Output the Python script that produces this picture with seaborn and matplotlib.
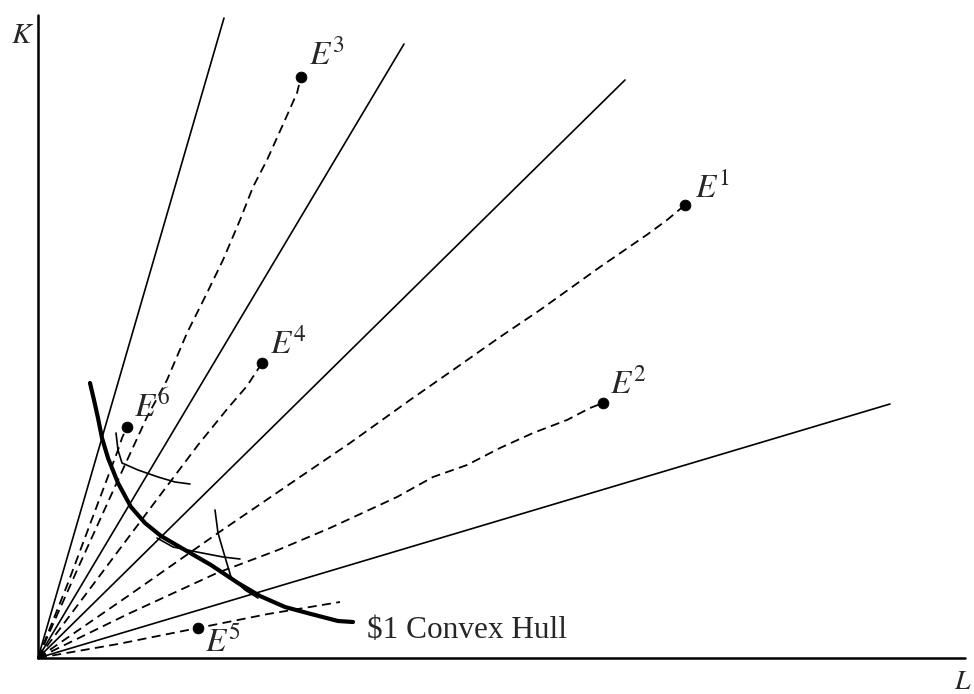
import matplotlib
matplotlib.use("Agg")
import matplotlib.pyplot as plt
import seaborn as sns

# pixel-like units: L to the right, K upward, origin at the corner of the axes
ray_end_L = [186, 366, 587, 852]
ray_end_K = [640, 614, 578, 254]

e_names = ["1", "2", "3", "4", "5", "6"]
e_L = [647, 565, 263, 224, 160, 89]
e_K = [453, 255, 581, 295, 30, 231]

# dashed paths from the origin out to each E point
path_e1_L = [0, 90, 180, 262, 312, 372, 415, 462, 502, 562, 610, 629, 647]
path_e1_K = [0, 62, 125, 181, 215, 258, 288, 321, 348, 391, 424, 438, 453]
path_e2_L = [0, 90, 179, 240, 292, 359, 395, 429, 462, 495, 529, 552, 565]
path_e2_K = [0, 44, 85, 108, 130, 161, 181, 193, 210, 225, 238, 250, 255]
path_e3_L = [0, 40, 80, 109, 129, 149, 169, 185, 202, 215, 229, 247, 259, 263]
path_e3_K = [0, 90, 178, 241, 278, 325, 365, 398, 438, 471, 498, 538, 565, 581]
path_e4_L = [0, 60, 120, 160, 190, 209, 224]
path_e4_K = [0, 80, 160, 213, 250, 272, 295]
path_e5_L = [0, 80, 160, 230, 302]
path_e5_K = [0, 14, 30, 44, 56]
path_e6_L = [0, 30, 60, 80, 84, 89]
path_e6_K = [0, 75, 155, 208, 220, 231]

# $1 convex hull (thick) and the small isoquant pieces
hull_L = [52, 56, 60, 64, 70, 80, 93, 107, 123, 147, 173, 200, 222, 247, 273, 300, 315]
hull_K = [275, 258, 240, 220, 200, 175, 151, 135, 122, 108, 93, 75, 62, 51, 44, 37, 36]
iso1_L = [78, 80, 84, 100, 120, 137, 152]
iso1_K = [225, 208, 195, 188, 181, 176, 174]
iso2_L = [119, 135, 159, 185, 202]
iso2_K = [120, 111, 106, 101, 99]
iso3_L = [177, 180, 187, 193, 207, 220]
iso3_K = [148, 125, 101, 81, 68, 60]


def draw(x, y, **kw):
    sns.lineplot(x=x, y=y, ax=ax, color="black", sort=False, estimator=None, **kw)


sns.set_style("white")
plt.rcParams["mathtext.fontset"] = "stix"
plt.rcParams["font.family"] = ["Liberation Serif", "DejaVu Serif"]

fig = plt.figure(figsize=(9.74, 6.94), dpi=100)
ax = fig.add_axes([0, 0, 1, 1])
ax.set_xlim(-38, 936)
ax.set_ylim(-36, 658)
ax.axis("off")

# axes
draw([0, 0], [0, 643], lw=1.8)
draw([0, 927], [0, 0], lw=1.8)

# solid rays
for lx, ky in zip(ray_end_L, ray_end_K):
    draw([0, lx], [0, ky], lw=1.2)

# dashed expansion paths
paths = [(path_e1_L, path_e1_K), (path_e2_L, path_e2_K), (path_e3_L, path_e3_K),
         (path_e4_L, path_e4_K), (path_e5_L, path_e5_K), (path_e6_L, path_e6_K)]
for px, py in paths:
    draw(px, py, lw=1.3, linestyle=(0, (5, 3)))

# isoquant pieces and hull
for px, py in [(iso1_L, iso1_K), (iso2_L, iso2_K), (iso3_L, iso3_K)]:
    draw(px, py, lw=1.2)
draw(hull_L, hull_K, lw=3.0)

# E points
sns.scatterplot(x=e_L, y=e_K, ax=ax, color="black", s=60, edgecolor="black", zorder=5)
label_dx = [10, 7, 8, 8, 7, 7]
label_dy = [7, 10, 13, 10, -24, 10]
for name, lx, ky, dx, dy in zip(e_names, e_L, e_K, label_dx, label_dy):
    ax.text(lx + dx, ky + dy, rf"$E^{{{name}}}$", fontsize=24, ha="left", va="baseline")

ax.text(-27, 615, "$K$", fontsize=21, ha="left", va="baseline")
ax.text(916, -31, "$L$", fontsize=20, ha="left", va="baseline")
ax.text(329, 20, "$1 Convex Hull", fontsize=22.5, ha="left", va="baseline")

fig.savefig("out.png", dpi=100)
